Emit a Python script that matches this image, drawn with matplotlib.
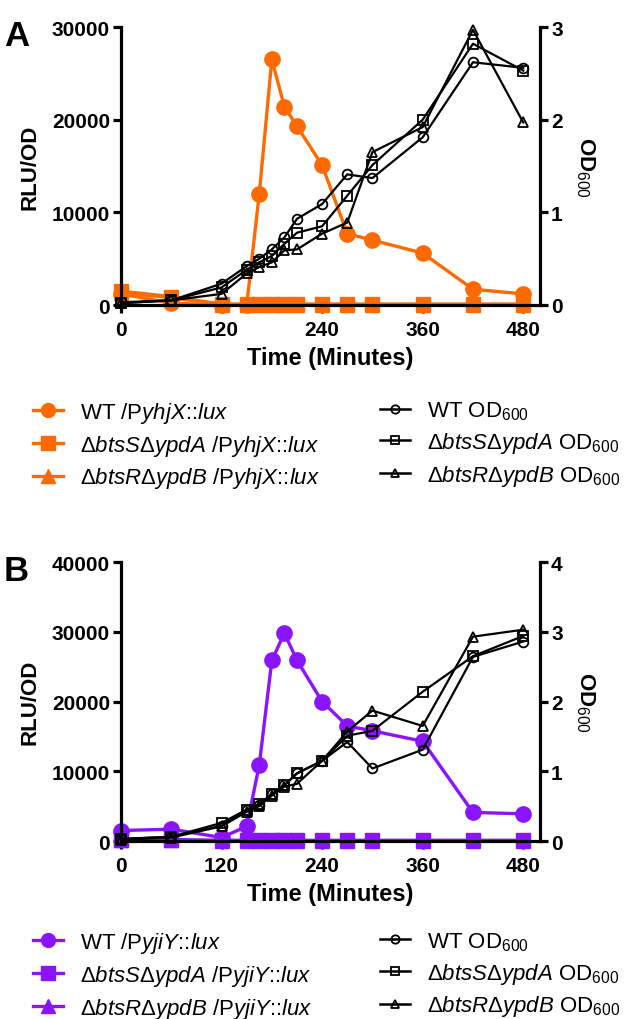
import matplotlib
matplotlib.use('Agg')
import matplotlib.pyplot as plt
from matplotlib.lines import Line2D

plt.rcParams['font.family'] = ['Liberation Sans', 'DejaVu Sans']
plt.rcParams['mathtext.fontset'] = 'custom'
plt.rcParams['mathtext.rm'] = 'Liberation Sans'
plt.rcParams['mathtext.it'] = 'Liberation Sans:italic'
plt.rcParams['mathtext.bf'] = 'Liberation Sans:bold'

# sampling times (minutes)
time = [0, 60, 120, 150, 165, 180, 195, 210, 240, 270, 300, 360, 420, 480]

# panel A: PyhjX::lux (RLU/OD)
wt_lux_a = [1200, 200, 0, 0, 12000, 26500, 21400, 19300, 15100, 7700, 7000, 5600, 1700, 1200]
sq_lux_a = [1500, 900, 100, 100, 100, 100, 100, 100, 100, 100, 100, 100, 100, 100]
tri_lux_a = [1300, 800, 50, 50, 50, 50, 50, 50, 50, 50, 50, 50, 50, 50]
# panel A: OD600
wt_od_a = [0.03, 0.05, 0.23, 0.42, 0.50, 0.60, 0.73, 0.93, 1.09, 1.41, 1.37, 1.81, 2.62, 2.56]
sq_od_a = [0.02, 0.05, 0.19, 0.38, 0.46, 0.53, 0.66, 0.78, 0.85, 1.18, 1.51, 2.00, 2.82, 2.53]
tri_od_a = [0.02, 0.05, 0.12, 0.34, 0.41, 0.46, 0.59, 0.60, 0.77, 0.89, 1.65, 1.92, 2.97, 1.97]

# panel B: PyjiY::lux (RLU/OD)
wt_lux_b = [1500, 1700, 500, 2100, 10900, 25900, 29800, 25900, 20000, 16500, 15800, 14300, 4100, 3900]
sq_lux_b = [200, 200, 100, 100, 100, 100, 100, 100, 100, 100, 100, 100, 100, 100]
tri_lux_b = [150, 150, 50, 50, 50, 50, 50, 50, 50, 50, 50, 50, 50, 50]
# panel B: OD600
wt_od_b = [0.03, 0.06, 0.22, 0.45, 0.52, 0.67, 0.80, 0.97, 1.15, 1.42, 1.04, 1.31, 2.64, 2.86]
sq_od_b = [0.03, 0.06, 0.26, 0.45, 0.53, 0.67, 0.80, 0.97, 1.15, 1.51, 1.58, 2.14, 2.65, 2.94]
tri_od_b = [0.02, 0.05, 0.21, 0.42, 0.50, 0.65, 0.78, 0.82, 1.15, 1.57, 1.87, 1.65, 2.93, 3.03]

x_ticks = [0, 120, 240, 360, 480]

orange = '#FF6A00'
purple = '#8A14FF'

fig = plt.figure(figsize=(6.25, 10.2), dpi=100)


def style_axis(ax, right=False):
    ax.spines['top'].set_visible(False)
    if right:
        ax.spines['left'].set_visible(False)
        ax.spines['bottom'].set_visible(False)
        ax.spines['right'].set_linewidth(2.3)
    else:
        ax.spines['right'].set_visible(False)
        ax.spines['left'].set_linewidth(2.3)
        ax.spines['bottom'].set_linewidth(2.3)
    ax.tick_params(axis='y', width=2.3, length=6, labelsize=15, pad=2)
    ax.tick_params(axis='x', width=2.3, length=6, labelsize=15, pad=5)
    for lbl in ax.get_xticklabels() + ax.get_yticklabels():
        lbl.set_fontweight('bold')


def panel(rect, color, lux, ods, lux_max, od_max, letter, gene, leg_y):
    ax = fig.add_axes(rect)
    ax.plot(time, lux[2], color=color, marker='^', markersize=10, linewidth=2.4, clip_on=False)
    ax.plot(time, lux[1], color=color, marker='s', markersize=10, linewidth=2.4, clip_on=False)
    ax.plot(time, lux[0], color=color, marker='o', markersize=11, linewidth=2.4, clip_on=False)
    ax.set_xlim(0, 500)
    ax.set_ylim(0, lux_max)
    ax.set_xticks(x_ticks)
    ax.set_yticks(range(0, lux_max + 1, 10000))
    ax.set_xlabel('Time (Minutes)', fontsize=17, fontweight='bold', labelpad=5)
    ax.set_ylabel('RLU/OD', fontsize=16, fontweight='bold', labelpad=8)
    style_axis(ax)

    ax2 = ax.twinx()
    for od, m in zip(ods, ['o', 's', '^']):
        ax2.plot(time, od, color='black', marker=m, markersize=7, markerfacecolor='none',
                 markeredgewidth=1.3, linewidth=1.6, clip_on=False)
    ax2.set_ylim(0, od_max)
    ax2.set_yticks(range(0, od_max + 1))
    ax2.set_ylabel('OD$_{600}$', fontsize=16, fontweight='bold', rotation=270, labelpad=24)
    style_axis(ax2, right=True)

    fig.text(0.006, rect[1] + rect[3] + 0.008, letter, fontsize=25, fontweight='bold',
             va='top', ha='left')

    lux_labels = [
        'WT /P$\\it{' + gene + '}$::$\\it{lux}$',
        '$\\Delta\\it{btsS}\\Delta\\it{ypdA}$ /P$\\it{' + gene + '}$::$\\it{lux}$',
        '$\\Delta\\it{btsR}\\Delta\\it{ypdB}$ /P$\\it{' + gene + '}$::$\\it{lux}$',
    ]
    od_labels = [
        'WT OD$_{600}$',
        '$\\Delta\\it{btsS}\\Delta\\it{ypdA}$ OD$_{600}$',
        '$\\Delta\\it{btsR}\\Delta\\it{ypdB}$ OD$_{600}$',
    ]
    h1 = [Line2D([], [], color=color, marker=m, markersize=10, linewidth=2.4)
          for m in ['o', 's', '^']]
    h2 = [Line2D([], [], color='black', marker=m, markersize=6, markerfacecolor='none',
                 markeredgewidth=1.3, linewidth=1.8) for m in ['o', 's', '^']]
    fig.legend(h1, lux_labels, loc='upper left', bbox_to_anchor=(0.053, leg_y),
               frameon=False, fontsize=16, handlelength=1.35, handletextpad=0.75,
               labelspacing=0.35, borderaxespad=0, borderpad=0)
    fig.legend(h2, od_labels, loc='upper left', bbox_to_anchor=(0.608, leg_y),
               frameon=False, fontsize=16, handlelength=1.35, handletextpad=0.75,
               labelspacing=0.35, borderaxespad=0, borderpad=0)


panel([0.1936, 0.700, 0.6704, 0.2725], orange,
      [wt_lux_a, sq_lux_a, tri_lux_a], [wt_od_a, sq_od_a, tri_od_a],
      30000, 3, 'A', 'yhjX', 0.607)
panel([0.1936, 0.1745, 0.6704, 0.2735], purple,
      [wt_lux_b, sq_lux_b, tri_lux_b], [wt_od_b, sq_od_b, tri_od_b],
      40000, 4, 'B', 'yjiY', 0.087)

fig.savefig('out.png', dpi=100)
